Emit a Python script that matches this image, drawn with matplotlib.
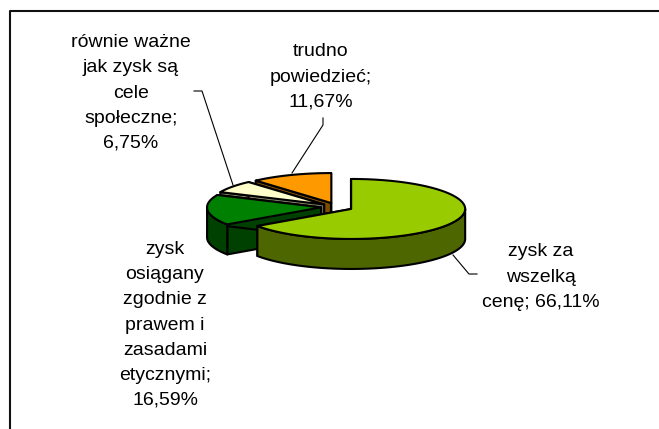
import numpy as np
import matplotlib
matplotlib.use('Agg')
import matplotlib.pyplot as plt
from matplotlib.patches import Polygon

plt.rcParams['font.family'] = ['Liberation Sans', 'DejaVu Sans']

labels = ['zysk za\nwszelką\ncenę; 66,11%',
          'zysk\nosiągany\nzgodnie z\nprawem i\nzasadami\netycznymi;\n16,59%',
          'równie ważne\njak zysk są\ncele\nspołeczne;\n6,75%',
          'trudno\npowiedzieć;\n11,67%']
values = [66.11, 16.59, 6.75, 11.67]
top_colors = ['#99CC00', '#008000', '#FFFFCC', '#FF9900']
side_colors = ['#4D6600', '#004000', '#808066', '#804D00']
label_pos = [(541, 277), (165, 325), (131, 93), (321, 77)]
leaders = [[(453, 255), (469, 274), (477, 274)],
           [],
           [(194, 91), (202, 91), (233, 185)],
           [(323, 118), (323, 125), (292, 173)]]

# pie geometry in pixels
cx, cy = 337, 207
rx, ry = 114, 30
depth = 30
explode = 16

fig = plt.figure(figsize=(6.59, 4.29), dpi=100)
ax = fig.add_axes([0, 0, 1, 1])
ax.set_xlim(0, 659)
ax.set_ylim(429, 0)
ax.axis('off')

# chart frame
ax.plot([10, 10, 659], [429, 10.5, 10.5], color='#111111', lw=1.5, solid_capstyle='butt')

fracs = np.array(values) / sum(values)
starts = 90 - 360 * np.concatenate(([0], np.cumsum(fracs)[:-1]))
ends = starts - 360 * fracs


def rim(a0, a1, ox, oy):
    t = np.radians(np.linspace(a0, a1, 120))
    return np.column_stack((ox + rx * np.cos(t), oy - ry * np.sin(t)))


def poly(pts, color):
    ax.add_patch(Polygon(pts, closed=True, facecolor=color, edgecolor='black',
                         lw=1.5, joinstyle='round'))


# painter's order: back slices first
for i in [3, 2, 1, 0]:
    mid = np.radians((starts[i] + ends[i]) / 2)
    ox = cx + explode * np.cos(mid)
    oy = cy - explode * ry / rx * np.sin(mid)
    apex = np.array([[ox, oy]])
    drop = np.array([0, depth])

    # cut faces
    for a in (starts[i], ends[i]):
        edge = rim(a, a, ox, oy)[:1]
        face = np.vstack((apex, edge, edge + drop, apex + drop))
        poly(face, side_colors[i])

    # outer wall, only the part facing the viewer (180..360 deg)
    a0, a1 = ends[i] % 360, (ends[i] % 360) + 360 * fracs[i]
    for lo, hi in [(180, 360), (540, 720)]:
        w0, w1 = max(a0, lo), min(a1, hi)
        if w1 > w0:
            arc = rim(w0, w1, ox, oy)
            poly(np.vstack((arc, (arc + drop)[::-1])), side_colors[i])

    # top surface
    poly(np.vstack((apex, rim(starts[i], ends[i], ox, oy))), top_colors[i])

for pts in leaders:
    if pts:
        xs, ys = zip(*pts)
        ax.plot(xs, ys, color='black', lw=0.8)

for text, (x, y) in zip(labels, label_pos):
    ax.text(x, y, text, ha='center', va='center', fontsize=14, linespacing=1.62,
            color='black')

fig.savefig('out.png', dpi=100)
